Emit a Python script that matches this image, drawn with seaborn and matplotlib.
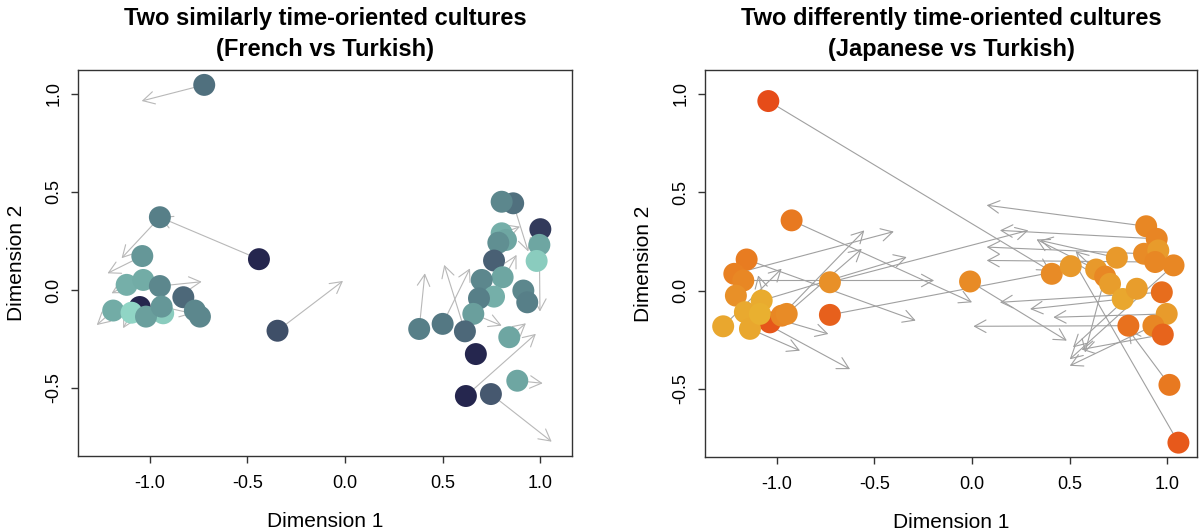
import matplotlib
matplotlib.use("Agg")
import matplotlib.pyplot as plt
import seaborn as sns
import pandas as pd

sns.set_style("white")
plt.rcParams['font.family'] = ['Liberation Sans', 'DejaVu Sans']
plt.rcParams['axes.unicode_minus'] = False
plt.rcParams['text.color'] = 'black'
plt.rcParams['axes.labelcolor'] = 'black'
plt.rcParams['xtick.color'] = 'black'
plt.rcParams['ytick.color'] = 'black'

# French vs Turkish: point positions and shade (0 = light teal, 1 = dark navy)
fr_x = [-0.72, -0.947, -0.44, -1.037, -1.117, -1.032, -0.947, -0.827, -1.186, -1.05,
        -0.93, -1.092, -1.018, -0.938, -0.768, -0.742, -0.345,
        0.861, 0.802, 1.0, 0.802, 0.824, 0.785, 0.995, 0.981, 0.763, 0.807, 0.7,
        0.763, 0.686, 0.913, 0.933, 0.657, 0.38, 0.5, 0.614, 0.841, 0.67, 0.882,
        0.619, 0.747]
fr_y = [1.046, 0.371, 0.157, 0.173, 0.026, 0.051, 0.02, -0.037, -0.105, -0.087,
        -0.119, -0.116, -0.136, -0.085, -0.105, -0.136, -0.208,
        0.442, 0.45, 0.31, 0.289, 0.255, 0.241, 0.23, 0.148, 0.15, 0.065, 0.051,
        -0.034, -0.043, -0.003, -0.063, -0.122, -0.199, -0.173, -0.211, -0.241,
        -0.327, -0.463, -0.541, -0.531]
fr_shade = [0.6, 0.5, 1.0, 0.35, 0.2, 0.22, 0.45, 0.65, 0.22, 1.0,
            0.05, 0.0, 0.3, 0.35, 0.45, 0.45, 0.8,
            0.6, 0.45, 0.9, 0.2, 0.25, 0.4, 0.25, 0.05, 0.7, 0.25, 0.45,
            0.2, 0.5, 0.45, 0.5, 0.3, 0.5, 0.55, 0.65, 0.25, 1.0, 0.25,
            1.0, 0.75]
# arrows: index of the start point, then end position
fr_arrow_from = [0, 2, 1, 3, 6, 4, 8, 11, 16, 33, 34, 35, 32, 40, 39, 38, 17, 20, 28, 36, 23, 13]
fr_arrow_tx = [-1.04, -0.947, -1.143, -1.215, -0.733, -1.194, -1.27, -1.135, -0.01, 0.409,
               0.64, 0.508, 0.802, 1.058, 0.977, 1.012, 0.938, 0.896, 0.878, 0.926, 0.998, -0.78]
fr_arrow_ty = [0.964, 0.371, 0.162, 0.085, 0.042, -0.017, -0.179, -0.195, 0.046, 0.085,
               0.11, 0.128, -0.182, -0.774, -0.224, -0.476, 0.196, 0.323, 0.179, -0.17, -0.11, -0.12]

# Japanese vs Turkish: shade (0 = yellow orange, 1 = red orange)
jp_x = [-1.042, -0.923, -1.153, -1.216, -1.17, -1.208, -0.727, -0.727, -0.01, -1.034,
        -1.273, -1.162, -1.136, -1.076, -1.085, -0.974, -0.948,
        0.408, 0.505, 0.635, 0.681, 0.741, 0.706, 0.771, 0.843, 0.891, 0.945, 0.88,
        0.953, 0.937, 1.031, 0.971, 0.996, 0.928, 0.8, 0.976, 1.01, 1.056]
jp_y = [0.964, 0.357, 0.158, 0.085, 0.051, -0.026, 0.042, -0.124, 0.046, -0.162,
        -0.182, -0.11, -0.195, -0.051, -0.119, -0.128, -0.119,
        0.085, 0.124, 0.107, 0.071, 0.167, 0.034, -0.043, 0.009, 0.327, 0.263, 0.187,
        0.204, 0.145, 0.128, -0.009, -0.119, -0.179, -0.179, -0.224, -0.48, -0.774]
jp_shade = [1.0, 0.65, 0.62, 0.58, 0.5, 0.4, 0.4, 0.85, 0.45, 0.92,
            0.15, 0.12, 0.15, 0.1, 0.05, 0.5, 0.45,
            0.45, 0.3, 0.3, 0.5, 0.3, 0.25, 0.15, 0.25, 0.5, 0.52, 0.45,
            0.28, 0.5, 0.5, 0.75, 0.28, 0.5, 0.72, 0.82, 0.65, 0.9]
jp_arrow_from = [0, 1, 2, 6, 7, 15, 16, 13, 11, 12, 14, 10, 9, 4, 3, 5, 8,
                 25, 26, 21, 27, 29, 31, 23, 32, 34, 33, 24, 20, 30, 35, 36, 37, 22, 19]
jp_arrow_tx = [0.40, 0.0, -0.288, 0.288, 0.45, -0.551, -0.564, -0.334, -0.624, -0.88,
               -0.735, -0.974, -1.094, -0.194, -0.40, -1.16, 0.485,
               0.075, 0.143, 0.348, 0.075, 0.075, 0.143, 0.297, 0.416, 0.007, 0.50,
               0.517, 0.578, 0.50, 0.56, 0.80, 0.52, 0.53, 0.33]
jp_arrow_ty = [0.10, -0.06, -0.153, 0.306, 0.10, 0.306, 0.212, 0.17, -0.40, -0.306,
               -0.221, 0.111, 0.077, 0.051, 0.30, 0.12, -0.255,
               0.434, 0.306, 0.255, 0.221, 0.153, -0.06, -0.094, -0.136, -0.182, -0.383,
               -0.289, -0.315, -0.35, -0.30, -0.20, 0.15, 0.20, 0.26]

x_ticks = [-1.0, -0.5, 0.0, 0.5, 1.0]
y_ticks = [-0.5, 0.0, 0.5, 1.0]
tick_labels_x = ["-1.0", "-0.5", "0.0", "0.5", "1.0"]
tick_labels_y = ["-0.5", "0.0", "0.5", "1.0"]

teal = sns.blend_palette(["#90d5c5", "#6ea6a2", "#577f88", "#46596f", "#25264e"], as_cmap=True)
orange = sns.blend_palette(["#e9b431", "#e8962a", "#e8781f", "#e64c19"], as_cmap=True)

fig = plt.figure(figsize=(12, 5.31), dpi=100)
ax1 = fig.add_axes([78 / 1200, 75 / 531, 494 / 1200, 386 / 531])
ax2 = fig.add_axes([705 / 1200, 74 / 531, 492 / 1200, 387 / 531])


def draw_panel(ax, xs, ys, shade, a_from, a_tx, a_ty, cmap, arrow_col, title, xlim):
    df = pd.DataFrame({"x": xs, "y": ys, "shade": shade})
    for i, tx, ty in zip(a_from, a_tx, a_ty):
        ax.annotate("", xy=(tx, ty), xytext=(xs[i], ys[i]),
                    arrowprops=dict(arrowstyle="->,head_length=0.55,head_width=0.3",
                                    color=arrow_col, lw=0.8, shrinkA=0, shrinkB=0,
                                    mutation_scale=15),
                    zorder=1)
    sns.scatterplot(data=df, x="x", y="y", hue="shade", palette=cmap, hue_norm=(0, 1),
                    s=250, linewidth=0, alpha=1, legend=False, ax=ax, zorder=3)
    ax.set_xlim(*xlim)
    ax.set_ylim(-0.847, 1.122)
    ax.set_xticks(x_ticks)
    ax.set_xticklabels(tick_labels_x)
    ax.set_yticks(y_ticks)
    ax.set_yticklabels(tick_labels_y, rotation=90, va="center")
    ax.tick_params(direction="out", length=5, width=1, color="#333333",
                   labelsize=13, pad=9, left=True, bottom=True)
    ax.tick_params(axis="y", pad=6)
    for sp in ax.spines.values():
        sp.set_color("#333333")
        sp.set_linewidth(1)
    ax.set_xlabel("Dimension 1", fontsize=15, labelpad=14)
    ax.set_ylabel("Dimension 2", fontsize=15, labelpad=14)
    ax.set_title(title, fontsize=17, fontweight="bold", pad=10, linespacing=1.45)


draw_panel(ax1, fr_x, fr_y, fr_shade, fr_arrow_from, fr_arrow_tx, fr_arrow_ty, teal,
           "#b8b8b8", "Two similarly time-oriented cultures\n(French vs Turkish)", (-1.366, 1.162))
draw_panel(ax2, jp_x, jp_y, jp_shade, jp_arrow_from, jp_arrow_tx, jp_arrow_ty, orange,
           "#a0a0a0", "Two differently time-oriented cultures\n(Japanese vs Turkish)", (-1.366, 1.151))

fig.savefig("out.png", dpi=100)
